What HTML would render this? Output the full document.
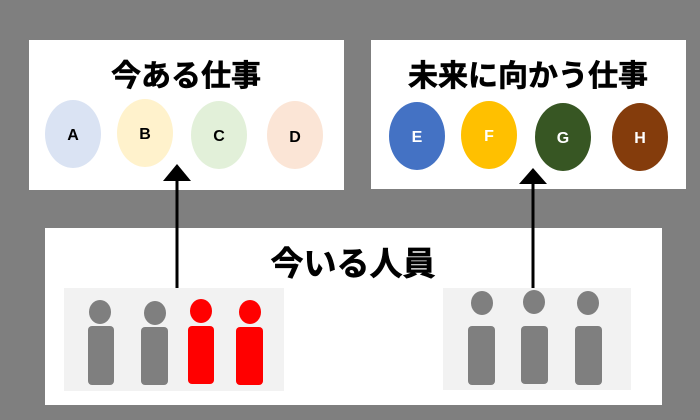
<!DOCTYPE html>
<html><head><meta charset="utf-8"><style>
html,body{margin:0;padding:0;background:#7f7f7f}
svg{display:block}
text{font-family:"Liberation Sans","Noto Sans CJK JP",sans-serif;font-weight:bold}
</style></head><body>
<svg width="700" height="420" viewBox="0 0 700 420" xmlns="http://www.w3.org/2000/svg">
<rect width="700" height="420" fill="#7f7f7f"/>
<rect x="29" y="40" width="315" height="150" fill="#fff"/>
<rect x="371" y="40" width="315" height="149" fill="#fff"/>
<rect x="45" y="228" width="617" height="177" fill="#fff"/>
<text x="186" y="86" font-size="30" text-anchor="middle" fill="#000" stroke="#000" stroke-width="0.6">今ある仕事</text>
<text x="528" y="86" font-size="30" text-anchor="middle" fill="#000" stroke="#000" stroke-width="0.6">未来に向かう仕事</text>
<text x="353" y="275" font-size="33" text-anchor="middle" fill="#000" stroke="#000" stroke-width="0.6">今いる人員</text>
<g font-size="16" text-anchor="middle">
<ellipse cx="73" cy="134" rx="28" ry="34" fill="#dae3f3"/><text x="73" y="140">A</text>
<ellipse cx="145" cy="133" rx="28" ry="34" fill="#fff2cc"/><text x="145" y="139">B</text>
<ellipse cx="219" cy="135" rx="28" ry="34" fill="#e2f0d9"/><text x="219" y="141">C</text>
<ellipse cx="295" cy="135" rx="28" ry="34" fill="#fbe5d6"/><text x="295" y="142">D</text>
<ellipse cx="417" cy="136" rx="28" ry="34" fill="#4472c4"/><text x="417" y="142" fill="#fff">E</text>
<ellipse cx="489" cy="135" rx="28" ry="34" fill="#ffc000"/><text x="489" y="141" fill="#fff">F</text>
<ellipse cx="563" cy="137" rx="28" ry="34" fill="#375623"/><text x="563" y="143" fill="#fff">G</text>
<ellipse cx="640" cy="137" rx="28" ry="34" fill="#843c0c"/><text x="640" y="143" fill="#fff">H</text>
</g>
<rect x="64" y="288" width="220" height="103" fill="#f2f2f2"/>
<rect x="443" y="288" width="188" height="102" fill="#f2f2f2"/>
<g fill="#7f7f7f">
<ellipse cx="100" cy="312" rx="11" ry="12"/><rect x="88" y="326" width="26" height="59" rx="4"/>
<ellipse cx="155" cy="313" rx="11" ry="12"/><rect x="141" y="327" width="27" height="58" rx="4"/>
<ellipse cx="482" cy="303" rx="11" ry="12"/><rect x="468" y="326" width="27" height="59" rx="4"/>
<ellipse cx="534" cy="302" rx="11" ry="12"/><rect x="521" y="326" width="27" height="58" rx="4"/>
<ellipse cx="588" cy="303" rx="11" ry="12"/><rect x="575" y="326" width="27" height="59" rx="4"/>
</g>
<g fill="#ff0000">
<ellipse cx="201" cy="311" rx="11" ry="12"/><rect x="188" y="326" width="26" height="58" rx="4"/>
<ellipse cx="250" cy="312" rx="11" ry="12"/><rect x="236" y="327" width="27" height="58" rx="4"/>
</g>
<g stroke="#000" stroke-width="3">
<line x1="177" y1="288" x2="177" y2="178"/>
<line x1="533" y1="288" x2="533" y2="182"/>
</g>
<polygon points="177,164 163,181 191,181" fill="#000"/>
<polygon points="533,168 519,184 547,184" fill="#000"/>
</svg>
</body></html>
